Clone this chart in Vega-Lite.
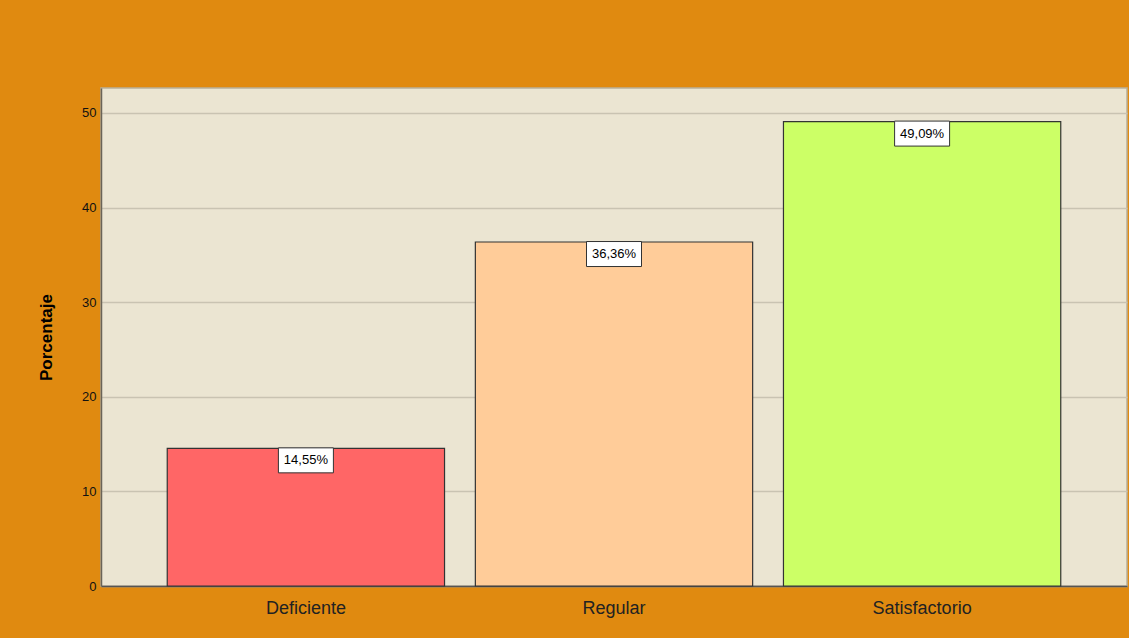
{
  "$schema": "https://vega.github.io/schema/vega-lite/v6.json",
  "autosize": "none",
  "width": 1026,
  "height": 498,
  "padding": {"left": 101, "top": 88, "right": 2, "bottom": 52},
  "background": "#E08A10",
  "config": {
    "view": {"fill": "#EBE5D2", "stroke": "#B8B09A", "strokeWidth": 1.5},
    "font": "Liberation Sans"
  },
  "data": {
    "values": [
      {"categoria": "Deficiente", "porcentaje": 14.55, "etiqueta": "14,55%"},
      {"categoria": "Regular", "porcentaje": 36.36, "etiqueta": "36,36%"},
      {"categoria": "Satisfactorio", "porcentaje": 49.09, "etiqueta": "49,09%"}
    ]
  },
  "encoding": {
    "x": {
      "field": "categoria",
      "type": "nominal",
      "sort": null,
      "scale": {"paddingInner": 0.1, "paddingOuter": 0.215},
      "axis": {
        "title": null,
        "labelAngle": 0,
        "labelFontSize": 18,
        "labelColor": "#222222",
        "labelPadding": 13,
        "ticks": false,
        "domainColor": "#555555",
        "domainWidth": 1.5
      }
    },
    "y": {
      "field": "porcentaje",
      "type": "quantitative",
      "scale": {"domain": [0, 52.64], "nice": false},
      "axis": {
        "title": "Porcentaje",
        "titleFontSize": 17,
        "titleFontWeight": "bold",
        "titleColor": "#000000",
        "titleX": -46,
        "values": [0, 10, 20, 30, 40, 50],
        "labelFontSize": 13,
        "labelColor": "#111111",
        "labelPadding": 5,
        "ticks": false,
        "grid": true,
        "gridColor": "#C9C3B2",
        "gridWidth": 1.5,
        "domainColor": "#6A6458",
        "domainWidth": 1.5
      }
    }
  },
  "layer": [
    {
      "mark": {"type": "bar", "stroke": "#333333", "strokeWidth": 1.2},
      "encoding": {
        "color": {
          "field": "categoria",
          "type": "nominal",
          "scale": {"domain": ["Deficiente", "Regular", "Satisfactorio"], "range": ["#FF6666", "#FFCC99", "#CCFF66"]},
          "legend": null
        }
      }
    },
    {
      "mark": {
        "type": "point",
        "shape": "M-1,-0.4545L1,-0.4545L1,0.4545L-1,0.4545Z",
        "size": 3025,
        "filled": true,
        "fill": "#FFFFFF",
        "stroke": "#333333",
        "strokeWidth": 1,
        "opacity": 1,
        "yOffset": 12
      },
      "encoding": {}
    },
    {
      "mark": {"type": "text", "fontSize": 13, "color": "#000000", "yOffset": 12, "baseline": "middle"},
      "encoding": {"text": {"field": "etiqueta"}}
    }
  ]
}
